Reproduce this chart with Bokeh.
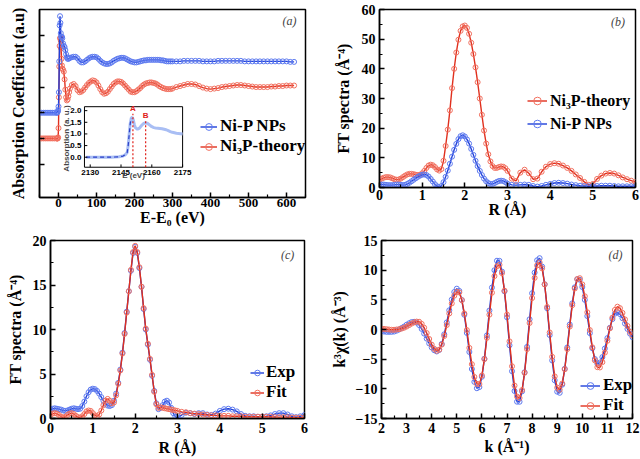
import numpy as np
from bokeh.plotting import figure
from bokeh.layouts import row, column
from bokeh.models import (Range1d, FixedTicker, Legend, LegendItem, Label,
                          ColumnDataSource)
from bokeh.embed import file_html
from bokeh.resources import INLINE
from bokeh.core.properties import value

# ------------------------------------------------------------------ data
# (a) normalised XANES/EXAFS absorption, E-E0 in eV (curves offset as drawn)
a_energy = (list(range(-50, -4, 5)) + list(range(-4, 11)) + list(range(12, 31, 2))
            + list(range(35, 301, 5)) + list(range(310, 621, 10)))
a_nip = ([0.5] * 10
         + [0.5, 0.51, 0.52, 0.55, 0.62, 0.9, 1.5, 2.2, 2.38, 2.25, 2.05, 1.98, 1.97, 1.98, 1.95]
         + [1.85, 1.8, 1.78, 1.72, 1.64, 1.58, 1.55, 1.55, 1.56, 1.57]
         + [1.58, 1.59, 1.59, 1.56, 1.51, 1.48, 1.48, 1.5, 1.53, 1.56,
            1.58, 1.59, 1.59, 1.58, 1.55, 1.51, 1.48, 1.46, 1.45, 1.45,
            1.46, 1.48, 1.51, 1.53, 1.55, 1.56, 1.57, 1.57, 1.56, 1.54,
            1.52, 1.5, 1.49, 1.48, 1.48, 1.49, 1.5, 1.51, 1.52, 1.52,
            1.53, 1.53, 1.53, 1.53, 1.53, 1.53, 1.53, 1.52, 1.52, 1.51,
            1.5, 1.5, 1.5, 1.5]
         + [1.5, 1.5, 1.51, 1.51, 1.51, 1.51, 1.51, 1.5, 1.5, 1.5,
            1.5, 1.51, 1.51, 1.51, 1.51, 1.51, 1.51, 1.51, 1.5, 1.5,
            1.5, 1.5, 1.5, 1.5, 1.5, 1.5, 1.5, 1.5, 1.5, 1.5, 1.49, 1.49])
a_ni3p = ([0.0] * 10
          + [0.0, 0.0, 0.0, 0.02, 0.2, 0.8, 1.4, 1.8, 1.95, 1.96, 1.9, 1.75, 1.55, 1.42, 1.36]
          + [1.34, 1.3, 1.15, 0.95, 0.8, 0.74, 0.76, 0.82, 0.9, 0.97]
          + [1.04, 1.06, 1.02, 0.94, 0.9, 0.91, 0.94, 0.99, 1.04, 1.08,
             1.11, 1.13, 1.12, 1.09, 1.03, 0.96, 0.9, 0.87, 0.88, 0.91,
             0.96, 1.01, 1.06, 1.09, 1.11, 1.11, 1.1, 1.07, 1.03, 0.99,
             0.95, 0.91, 0.9, 0.9, 0.92, 0.95, 0.98, 1.02, 1.05, 1.07,
             1.08, 1.09, 1.09, 1.08, 1.07, 1.05, 1.02, 1.0, 0.98, 0.97,
             0.96, 0.96, 0.96, 0.97]
          + [1.0, 1.02, 1.04, 1.06, 1.06, 1.05, 1.02, 0.99, 0.97, 0.96,
             0.97, 0.98, 1.0, 1.01, 1.02, 1.03, 1.04, 1.04, 1.03, 1.02,
             1.01, 1.0, 1.0, 1.0, 1.0, 1.01, 1.01, 1.02, 1.02, 1.03, 1.03, 1.03])
a_yticks = [-0.5, 0.0, 0.5, 1.0, 1.5, 2.0]

# (a) inset: P K-edge absorption
inset_energy = ([2128, 2130, 2132, 2134, 2136, 2138, 2140, 2142, 2144, 2146,
                 2147, 2148, 2148.5, 2149, 2149.5, 2150, 2150.5, 2151, 2151.5, 2152]
                + list(range(2153, 2176)))
inset_abs = ([0.0, 0.0, 0.0, 0.0, 0.0, 0.0, 0.0, 0.01, 0.02, 0.05,
              0.1, 0.2, 0.5, 1.0, 1.45, 1.68, 1.72, 1.6, 1.4, 1.27]
             + [1.2, 1.25, 1.36, 1.45, 1.48, 1.45, 1.38, 1.31, 1.27, 1.25,
                1.24, 1.23, 1.22, 1.2, 1.18, 1.14, 1.1, 1.07, 1.05, 1.03,
                1.02, 1.01, 1.0])
inset_xticks = [2130, 2145, 2160, 2175]
inset_yticks = [0.0, 0.5, 1.0, 1.5, 2.0]
inset_peak_names = ["A", "B"]
inset_peak_pos = [2150.8, 2157.0]
inset_peak_top = [1.87, 1.57]

# (b) FT spectra, R in Angstrom
r_grid = list(np.round(np.arange(0, 3.0001, 0.05), 2)) + list(np.round(np.arange(3.1, 6.0001, 0.1), 2))
b_ni3p = [2.6, 3.0, 3.3, 3.5, 3.5, 3.4, 3.1, 2.8, 2.6, 2.7,
          3.0, 3.5, 4.0, 4.4, 4.6, 4.6, 4.5, 4.3, 4.2, 4.3,
          4.8, 5.6, 6.6, 7.4, 7.7, 7.5, 6.9, 6.1, 5.7, 6.2,
          9.0, 14.0, 19.5, 26.0, 33.5, 40.0, 45.5, 49.8, 52.8, 54.3,
          54.6, 53.8, 51.8, 48.8, 45.0, 40.5, 35.5, 30.0, 24.5, 19.2,
          14.8, 11.2, 8.8, 7.2, 6.6, 6.6, 6.9, 7.1, 7.0, 6.5,
          5.6,
          3.0, 2.2, 5.0, 6.0, 4.8, 2.8, 3.0, 5.3, 7.0, 7.9,
          8.2, 8.0, 7.4, 6.6, 5.6, 4.4, 3.2, 1.9, 0.9, 1.2,
          2.9, 4.0, 4.7, 4.9, 4.7, 4.1, 3.4, 2.8, 2.3, 1.8]
b_nip = [1.0, 1.0, 1.0, 0.9, 0.8, 0.8, 0.8, 0.9, 1.0, 1.0,
         0.9, 0.8, 0.9, 1.2, 1.6, 2.1, 2.6, 3.1, 3.6, 4.0,
         4.3, 4.4, 4.2, 3.7, 2.9, 2.0, 1.1, 0.4, 0.1, 0.5,
         1.8, 3.6, 5.7, 8.0, 10.4, 12.7, 14.7, 16.3, 17.3, 17.6,
         17.2, 16.2, 14.8, 13.0, 11.0, 9.0, 7.2, 5.6, 4.2, 3.0,
         2.1, 1.5, 1.2, 1.2, 1.5, 1.9, 2.2, 2.3, 2.2, 1.8,
         1.3,
         0.9, 0.8, 0.9, 1.0, 0.9, 0.5, 0.3, 0.5, 0.9, 1.2,
         1.5, 1.6, 1.5, 1.3, 1.0, 0.8, 0.6, 0.5, 0.4, 0.4,
         0.5, 0.6, 0.6, 0.6, 0.5, 0.4, 0.4, 0.4, 0.4, 0.4]

# (c) FT spectra fit
c_exp = [1.0, 1.1, 1.15, 1.1, 1.05, 1.0, 0.9, 0.85, 0.9, 1.0,
         1.1, 1.15, 1.1, 1.05, 1.1, 1.4, 1.9, 2.5, 2.95, 3.25,
         3.35, 3.3, 3.1, 2.8, 2.4, 2.0, 1.65, 1.45, 1.4, 1.5,
         2.0, 2.8, 4.0, 5.5, 7.4, 9.6, 12.0, 14.3, 16.6, 18.6,
         19.3, 18.6, 16.9, 14.8, 12.3, 10.0, 8.3, 6.6, 4.8, 3.1,
         1.7, 1.05, 1.2, 1.5, 1.9, 2.0, 1.8, 1.2, 0.6, 0.2,
         0.05,
         0.4, 0.65, 0.6, 0.5, 0.6, 0.6, 0.45, 0.4, 0.55, 0.85,
         1.05, 1.1, 1.0, 0.8, 0.5, 0.3, 0.25, 0.25, 0.2, 0.2,
         0.25, 0.35, 0.5, 0.6, 0.6, 0.45, 0.25, 0.15, 0.25, 0.4]
c_fit = [0.4, 0.55, 0.6, 0.55, 0.4, 0.2, 0.1, 0.2, 0.4, 0.55,
         0.6, 0.5, 0.3, 0.15, 0.1, 0.25, 0.5, 0.8, 0.9, 0.85,
         0.6, 0.35, 0.25, 0.45, 0.9, 1.5, 2.0, 2.2, 2.0, 1.7,
         1.8, 2.6, 3.9, 5.4, 7.3, 9.5, 11.9, 14.3, 16.7, 18.7,
         19.4, 18.7, 17.0, 14.8, 12.4, 10.1, 8.4, 6.7, 4.9, 3.0,
         1.6, 1.2, 1.25, 1.2, 1.15, 1.1, 1.05, 1.0, 0.95, 0.9,
         0.85,
         0.75, 0.7, 0.6, 0.55, 0.5, 0.45, 0.4, 0.35, 0.35, 0.3,
         0.3, 0.3, 0.25, 0.25, 0.25, 0.2, 0.2, 0.2, 0.2, 0.2,
         0.2, 0.2, 0.15, 0.15, 0.15, 0.15, 0.1, 0.1, 0.1, 0.1]

# (d) k^3-weighted EXAFS
d_k = list(np.round(np.arange(2.0, 12.0001, 0.1), 1))
d_exp = [-0.3, -0.35, -0.4, -0.4, -0.4, -0.35, -0.2, 0.0, 0.25, 0.5,
         0.8, 1.05, 1.25, 1.3, 1.16, 0.74, 0.1, -0.69, -1.54, -2.35,
         -3.03, -3.49, -3.7, -3.44, -2.43, -0.81, 1.19, 3.24, 5.05, 6.32,
         6.88, 6.5, 4.96, 2.48, -0.58, -3.79, -6.66, -8.83, -9.9, -9.7,
         -7.97, -4.92, -1.0, 3.2, 7.07, 9.99, 11.59, 11.57, 9.76, 6.43,
         2.06, -2.66, -7.03, -10.36, -12.17, -12.18, -10.43, -7.21, -2.93, 1.72,
         6.11, 9.59, 11.67, 12.02, 10.6, 7.63, 3.58, -0.94, -5.21, -8.56,
         -10.48, -10.67, -9.3, -6.62, -3.04, 0.84, 4.41, 7.11, 8.47, 8.39,
         7.16, 5.0, 2.27, -0.61, -3.16, -4.97, -5.78, -5.56, -4.65, -3.2,
         -1.45, 0.29, 1.75, 2.67, 2.9, 2.6, 1.9, 1.0, 0.1, -0.7,
         -1.3]
d_fit = [0.1, 0.1, 0.05, 0.0, -0.05, -0.05, 0.0, 0.05, 0.15, 0.3,
         0.5, 0.75, 1.0, 1.2, 1.33, 1.3, 0.95, 0.3, -0.6, -1.6,
         -2.55, -3.25, -3.58, -3.4, -2.55, -1.1, 0.75, 2.7, 4.4, 5.7,
         6.35, 6.25, 4.95, 2.7, -0.1, -3.1, -5.85, -8.0, -9.15, -9.2,
         -7.75, -5.0, -1.4, 2.5, 6.2, 9.0, 10.65, 10.9, 9.5, 6.55,
         2.5, -2.0, -6.2, -9.45, -11.3, -11.55, -10.2, -7.3, -3.3, 1.1,
         5.3, 8.7, 10.8, 11.3, 10.3, 7.6, 3.8, -0.5, -4.6, -7.9,
         -9.8, -10.15, -9.1, -6.7, -3.3, 0.5, 4.1, 6.9, 8.5, 8.65,
         7.6, 5.6, 2.9, -0.1, -3.0, -5.2, -6.35, -6.4, -5.5, -3.9,
         -1.9, 0.2, 2.0, 3.3, 3.85, 3.6, 2.8, 1.7, 0.6, -0.4,
         -1.0]

# ------------------------------------------------------------------ style
SERIF = "Liberation Serif"
BLUE_LINE, BLUE_MK = "#1f3fd8", "#5d7af0"
RED_LINE, RED_MK = "#e0301e", "#f2705f"


def make_fig(w, h, xr, yr, bl, br, bt, bb, tick_px="14px", title_px="16px"):
    p = figure(width=w, height=h, x_range=Range1d(*xr), y_range=Range1d(*yr),
               output_backend="svg", toolbar_location=None,
               min_border_left=bl, min_border_right=br,
               min_border_top=bt, min_border_bottom=bb)
    p.grid.visible = False
    p.outline_line_color = "black"
    p.outline_line_width = 1.5
    p.outline_line_alpha = 1.0
    for ax in p.axis:
        ax.axis_line_width = 1.5
        ax.major_tick_in = 5
        ax.major_tick_out = 0
        ax.minor_tick_in = 3
        ax.minor_tick_out = 0
        ax.major_tick_line_width = 1.5
        ax.minor_tick_line_width = 1.2
        ax.major_label_text_font = SERIF
        ax.major_label_text_font_style = "bold"
        ax.major_label_text_font_size = tick_px
        ax.major_label_text_color = "black"
        ax.axis_label_text_font = SERIF
        ax.axis_label_text_font_style = "bold"
        ax.axis_label_text_font_size = title_px
        ax.axis_label_text_color = "black"
        ax.major_label_standoff = 4
    return p


def series(p, x, y, lc, mc):
    src = ColumnDataSource(dict(x=x, y=y))
    l = p.line("x", "y", source=src, line_color=lc, line_width=1.4)
    s = p.scatter("x", "y", source=src, marker="circle", size=5,
                  fill_color=None, line_color=mc, line_width=1)
    return [l, s]


def legend(p, items, loc, spacing, lh, gw, standoff, font_px):
    lg = Legend(items=[LegendItem(label=t, renderers=r) for t, r in items],
                location=loc, spacing=spacing, padding=0, margin=0,
                label_height=lh, glyph_height=lh, glyph_width=gw,
                label_standoff=standoff, border_line_color=None,
                background_fill_alpha=0,
                label_text_font=SERIF, label_text_font_style="bold",
                label_text_font_size=font_px, label_text_color="black")
    p.add_layout(lg)


def tag(p, x, y, t):
    p.add_layout(Label(x=x, y=y, text=t, text_font=SERIF,
                       text_font_style="italic", text_font_size="12px",
                       text_align="center", text_baseline="middle"))


# ------------------------------------------------------------------ (a)
pa = make_fig(320, 230, (-50, 650), (-1.15, 2.51), 39, 15, 3, 33, "13px", "16px")
pa.xaxis.ticker = FixedTicker(ticks=[0, 100, 200, 300, 400, 500, 600],
                              minor_ticks=[-50, 50, 150, 250, 350, 450, 550, 650])
pa.yaxis.ticker = FixedTicker(ticks=a_yticks, minor_ticks=[])
pa.yaxis.major_label_overrides = {t: "" for t in a_yticks}
pa.yaxis.major_label_standoff = 0
pa.yaxis.axis_label_standoff = 13
pa.xaxis.major_label_standoff = 1
pa.xaxis.axis_label_standoff = -1
pa.xaxis.axis_label = "E-E\u2080 (eV)"
pa.yaxis.axis_label = "Absorption Coefficient (a.u)"
ra_red = series(pa, a_energy, a_ni3p, RED_LINE, RED_MK)
ra_blue = series(pa, a_energy, a_nip, BLUE_LINE, BLUE_MK)
legend(pa, [("Ni-P NPs", ra_blue), ("Ni\u2083P-theory", ra_red)], (161, 41), 0, 19, 17, 3, "17px")
tag(pa, 608, 2.28, "(a)")

# inset placed inside (a) through its own data ranges
IX, IY = (2127.2, 2175.0), (-0.43, 2.17)
FX, FY = (0.169, 0.538), (0.161, 0.483)
sx = (IX[1] - IX[0]) / (FX[1] - FX[0])
sy = (IY[1] - IY[0]) / (FY[1] - FY[0])
pa.extra_x_ranges = {"ins": Range1d(IX[0] - FX[0] * sx, IX[0] - FX[0] * sx + sx)}
pa.extra_y_ranges = {"ins": Range1d(IY[0] - FY[0] * sy, IY[0] - FY[0] * sy + sy)}
ins = dict(x_range_name="ins", y_range_name="ins")
pa.quad(left=[IX[0]], right=[IX[1]], bottom=[IY[0]], top=[IY[1]],
        fill_color="white", line_color="black", line_width=1, **ins)
pa.line(inset_energy, inset_abs, line_color="#a9bef4", line_width=3, **ins)
pa.line(inset_energy[:16], inset_abs[:16], line_color="#2a3fc8", line_width=1.2,
        line_dash="4 3", **ins)
pa.segment(x0=inset_peak_pos, x1=inset_peak_pos, y0=[IY[0]] * 2, y1=inset_peak_top,
           line_color="#e0201a", line_width=1.2, line_dash="2 2", **ins)
pa.text(x=inset_peak_pos, y=inset_peak_top, text=inset_peak_names, y_offset=-1,
        text_align="center", text_baseline="bottom", text_color="#e0201a",
        text_font=value("Liberation Sans"), text_font_style="bold",
        text_font_size="8px", **ins)
tick_len_y = 0.12
tick_len_x = 1.4
pa.segment(x0=inset_xticks, x1=inset_xticks, y0=[IY[0]] * 4,
           y1=[IY[0] + tick_len_y] * 4, line_color="black", line_width=1, **ins)
pa.segment(x0=[IX[0]] * 5, x1=[IX[0] + tick_len_x] * 5, y0=inset_yticks,
           y1=inset_yticks, line_color="black", line_width=1, **ins)
pa.text(x=inset_xticks, y=[IY[0]] * 4, text=[str(t) for t in inset_xticks],
        y_offset=3, text_align="center", text_baseline="top",
        text_font=value("Liberation Sans"), text_font_style="bold",
        text_font_size="8px", **ins)
pa.text(x=[IX[0]] * 5, y=inset_yticks, text=["%.1f" % t for t in inset_yticks],
        x_offset=-3, text_align="right", text_baseline="middle",
        text_font=value("Liberation Sans"), text_font_style="bold",
        text_font_size="8px", **ins)
pa.add_layout(Label(x=2118.3, y=0.85, text="Absorption  (a. u.)", angle=np.pi / 2,
                    text_align="center", text_baseline="middle",
                    text_font="Liberation Sans", text_font_style="bold",
                    text_font_size="8px", **ins))
pa.add_layout(Label(x=2151.1, y=-0.8, text="E (eV)", text_align="center",
                    text_baseline="middle", text_font="Liberation Sans",
                    text_font_style="bold", text_font_size="8px", **ins))

# ------------------------------------------------------------------ (b)
pb = make_fig(320, 220, (0, 6), (0, 60), 59, 5, 9, 33)
pb.xaxis.ticker = FixedTicker(ticks=[0, 1, 2, 3, 4, 5, 6],
                              minor_ticks=[0.5, 1.5, 2.5, 3.5, 4.5, 5.5])
pb.yaxis.ticker = FixedTicker(ticks=[0, 10, 20, 30, 40, 50, 60],
                              minor_ticks=[5, 15, 25, 35, 45, 55])
pb.xaxis.axis_label = "R (\u00c5)"
pb.yaxis.axis_label = "FT spectra (\u00c5\u207b\u2074)"
pb.xaxis.major_label_standoff = 2
pb.xaxis.axis_label_standoff = -2
pb.yaxis.axis_label_standoff = 7
rb_red = series(pb, r_grid, b_ni3p, RED_LINE, RED_MK)
rb_blue = series(pb, r_grid, b_nip, BLUE_LINE, BLUE_MK)
legend(pb, [("Ni\u2083P-theory", rb_red), ("Ni-P NPs", rb_blue)], (148, 54), 4, 19, 20, 3, "16px")
tag(pb, 5.59, 55.7, "(b)")

# ------------------------------------------------------------------ (c)
pc = make_fig(320, 229, (0, 6), (0, 20), 50, 16, 10, 41)
pc.xaxis.ticker = FixedTicker(ticks=[0, 1, 2, 3, 4, 5, 6],
                              minor_ticks=[0.5, 1.5, 2.5, 3.5, 4.5, 5.5])
pc.yaxis.ticker = FixedTicker(ticks=[0, 5, 10, 15, 20],
                              minor_ticks=[2.5, 7.5, 12.5, 17.5])
pc.xaxis.axis_label = "R (\u00c5)"
pc.yaxis.axis_label = "FT spectra (\u00c5\u207b\u2074)"
pc.xaxis.axis_label_standoff = 3
pc.yaxis.axis_label_standoff = 6
rc_exp = series(pc, r_grid, c_exp, BLUE_LINE, BLUE_MK)
rc_fit = series(pc, r_grid, c_fit, RED_LINE, RED_MK)
legend(pc, [("Exp", rc_exp), ("Fit", rc_fit)], (200, 16), 0, 17, 14, 2, "17px")
tag(pc, 5.6, 18.4, "(c)")

# ------------------------------------------------------------------ (d)
pd = make_fig(320, 229, (2, 12), (-15, 15), 61, 8, 10, 41)
pd.xaxis.ticker = FixedTicker(ticks=list(range(2, 13)),
                              minor_ticks=[2.5 + i for i in range(10)])
pd.yaxis.ticker = FixedTicker(ticks=[-15, -10, -5, 0, 5, 10, 15],
                              minor_ticks=[-12.5, -7.5, -2.5, 2.5, 7.5, 12.5])
pd.xaxis.axis_label = "k (\u00c5\u207b\u00b9)"
pd.yaxis.axis_label = "k\u00b3\u03c7(k) (\u00c5\u207b\u00b3)"
pd.xaxis.axis_label_standoff = 2
pd.yaxis.axis_label_standoff = 5
rd_exp = series(pd, d_k, d_exp, BLUE_LINE, BLUE_MK)
rd_fit = series(pd, d_k, d_fit, RED_LINE, RED_MK)
legend(pd, [("Exp", rd_exp), ("Fit", rd_fit)], (199, 3), 0, 17, 20, 3, "17px")
tag(pd, 11.32, 12.5, "(d)")

layout = column(row(pa, pb), row(pc, pd))
open("out.html", "w").write(file_html(layout, INLINE))
